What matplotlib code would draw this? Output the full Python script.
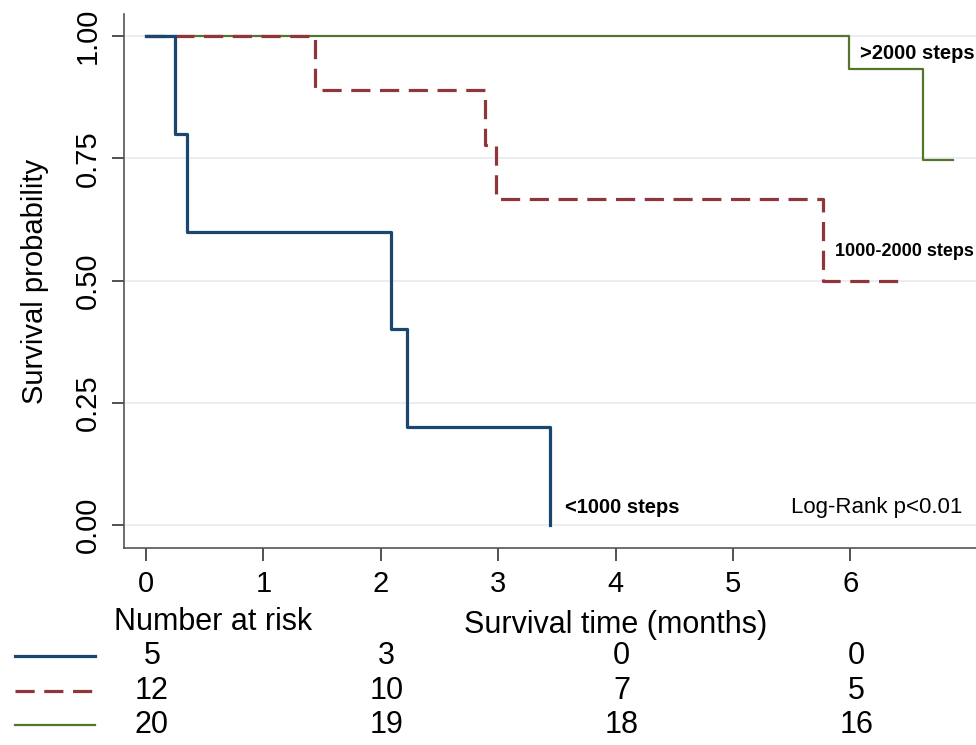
"""Kaplan-Meier survival by daily step count, Stata-style with number-at-risk table."""
import matplotlib
matplotlib.use("Agg")
import matplotlib.pyplot as plt
from matplotlib.lines import Line2D
from matplotlib import transforms

plt.rcParams["font.family"] = ["Liberation Sans", "DejaVu Sans"]

# survival curves (time in months, survival probability)
low_t = [0, 0.25, 0.35, 2.09, 2.22, 3.44]
low_s = [1.0, 0.80, 0.60, 0.40, 0.20, 0.00]
mid_t = [0, 1.44, 2.89, 2.98, 5.77, 6.44]
mid_s = [1.0, 0.889, 0.778, 0.667, 0.50, 0.50]
high_t = [0, 5.99, 6.62, 6.87]
high_s = [1.0, 0.933, 0.746, 0.746]

group_labels = ["<1000 steps", "1000-2000 steps", ">2000 steps"]
risk_times = [0, 2, 4, 6]
risk_low = [5, 3, 0, 0]
risk_mid = [12, 10, 7, 5]
risk_high = [20, 19, 18, 16]

NAVY, MAROON, GREEN = "#1a476f", "#90353b", "#55752f"

fig = plt.figure(figsize=(9.76, 7.45), dpi=100)
ax = fig.add_axes([124 / 976, 1 - 548 / 745, 1 - 124 / 976, (548 - 14) / 745])

ax.step(high_t, high_s, where="post", color=GREEN, lw=1.6, zorder=2)
ax.step(mid_t, mid_s, where="post", color=MAROON, lw=2.3, dashes=(6, 3), zorder=3)
ax.step(low_t, low_s, where="post", color=NAVY, lw=2.3, zorder=4)

ax.set_xlim(-0.187, 7.07)
ax.set_ylim(-0.047, 1.045)
ax.set_yticks([0, 0.25, 0.5, 0.75, 1.0])
ax.set_yticklabels(["0.00", "0.25", "0.50", "0.75", "1.00"], rotation=90, va="center")
ax.set_xticks(range(7))
ax.tick_params(axis="both", direction="out", length=9, width=1.2, color="#333333",
               labelsize=21, pad=7)
ax.grid(axis="y", color="#e6ebf0", lw=1.2)
ax.set_axisbelow(True)
for side in ["top", "right"]:
    ax.spines[side].set_visible(False)
for side in ["left", "bottom"]:
    ax.spines[side].set_color("#555555")
    ax.spines[side].set_linewidth(1.2)
ax.set_ylabel("Survival probability", fontsize=21, labelpad=18)

# curve labels
lab_font = dict(fontsize=14.5, fontweight="bold")
ax.text(6.08, 0.965, group_labels[2], va="center", **lab_font)
ax.text(5.87, 0.56, group_labels[1], va="center", fontsize=13, fontweight="bold")
ax.text(3.57, 0.035, group_labels[0], va="center", **lab_font)
ax.text(5.49, 0.035, "Log-Rank p<0.01", va="center", fontsize=16,
        bbox=dict(facecolor="white", edgecolor="none", pad=2))

# number at risk table
trans = transforms.blended_transform_factory(ax.transData, ax.transAxes)
ax.text(-0.27, -0.139, "Number at risk", transform=trans, ha="left", va="center", fontsize=22)
ax.text(4.0, -0.145, "Survival time (months)", transform=trans, ha="center", va="center", fontsize=22)
rows = [(risk_low, -0.202, NAVY, None), (risk_mid, -0.268, MAROON, (6, 3)),
        (risk_high, -0.332, GREEN, None)]
for counts, yy, col, dash in rows:
    for t, n in zip(risk_times, counts):
        ax.text(t + 0.05, yy, str(n), transform=trans, ha="center", va="center", fontsize=22)
    y_fig = 1 - (548 - yy * 534) / 745
    ln = Line2D([15 / 976, 95 / 976], [y_fig, y_fig], color=col,
                lw=2.3 if col != GREEN else 1.6, transform=fig.transFigure)
    if dash:
        ln.set_dashes(dash)
    fig.add_artist(ln)

fig.savefig("out.png", dpi=100)
